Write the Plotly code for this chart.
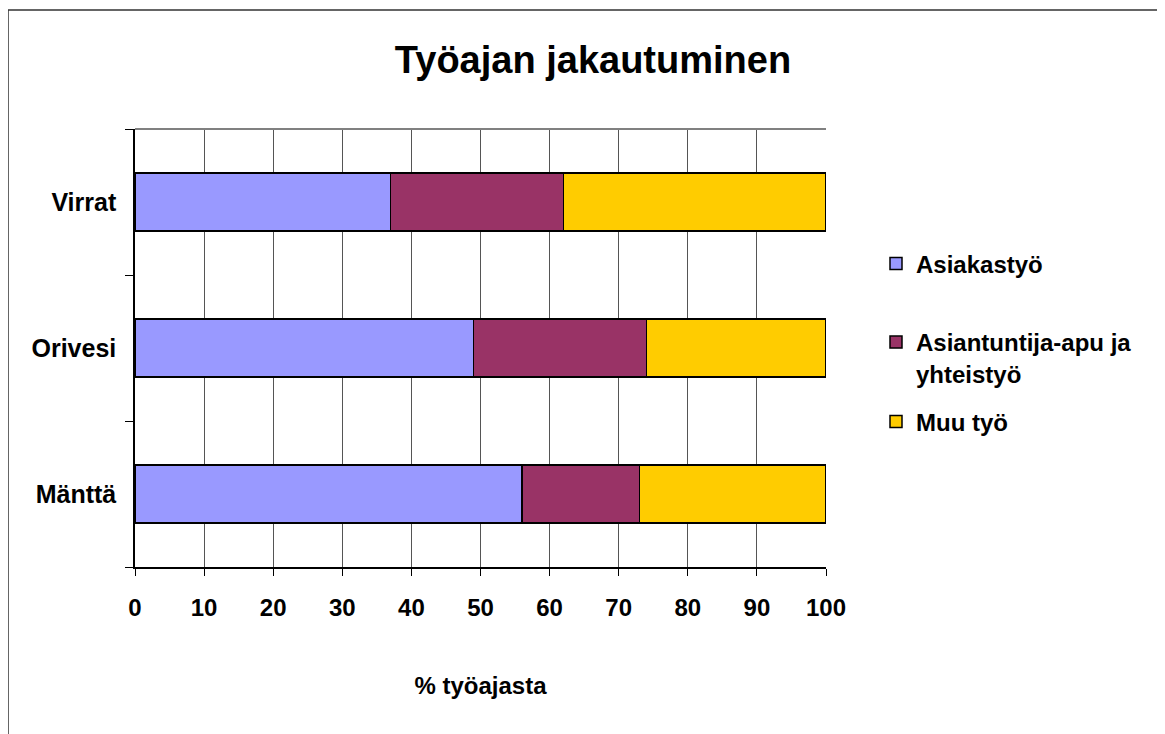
import plotly.graph_objects as go

categories = ["Mänttä", "Orivesi", "Virrat"]
asiakastyo = [56, 49, 37]
asiantuntija = [17, 25, 25]
muu = [27, 26, 38]
series_names = ["Asiakastyö", "Asiantuntija-apu ja<br>yhteistyö", "Muu työ"]
x_ticks = [0, 10, 20, 30, 40, 50, 60, 70, 80, 90, 100]

colors = ["#9999FF", "#993366", "#FFCC00"]
FONT = "Liberation Sans, Arial, sans-serif"

# page offset (body margin) compensation
OX, OY = 8, 8
W, H = 1165, 734

fig = go.Figure()
legends = ["legend", "legend2", "legend3"]
for name, vals, col, lg in zip(series_names, [asiakastyo, asiantuntija, muu], colors, legends):
    fig.add_trace(go.Bar(
        y=categories, x=vals, name=f"<b>{name.replace('<br>', '</b><br><b>')}</b>", orientation="h",
        marker=dict(color=col, line=dict(color="#000000", width=1.5)),
        legend=lg,
    ))

# target pixel positions in the window
pl, pr, pt, pb = 135, 826, 129, 567
L = pl - OX
T = pt - OY
R = W - (pr - OX)
B = H - (pb - OY)
pw, ph = pr - pl, pb - pt

def px(x):
    return (x - pl) / pw

def py(y):
    return (pb - y) / ph

leg_common = dict(font=dict(size=24, family=FONT), bgcolor="rgba(0,0,0,0)", valign="top",
                  xanchor="left")

fig.update_layout(
    width=W, height=H,
    barmode="stack", bargap=0.6,
    paper_bgcolor="white", plot_bgcolor="white",
    margin=dict(l=L, r=R, t=T, b=B),
    font=dict(family=FONT, size=24, color="#000000"),
    title=dict(text="<b>Työajan jakautuminen</b>", font=dict(size=38, family=FONT, color="#000"),
               x=(593 - OX) / W, xanchor="center", xref="container",
               y=1 - (60 - OY) / H, yanchor="middle", yref="container"),
    showlegend=True,
    legend=dict(x=px(876), y=py(264), yanchor="middle", **leg_common),
    legend2=dict(x=px(876), y=py(320), yanchor="top", **leg_common),
    legend3=dict(x=px(876), y=py(422), yanchor="middle", **leg_common),
    xaxis=dict(range=[0, 100], tickvals=x_ticks, ticktext=[f"<b>{v}</b>" for v in x_ticks],
               showgrid=True, gridcolor="#555555", gridwidth=1,
               showline=True, linecolor="#000000", linewidth=1.5,
               ticks="outside", ticklen=7, tickcolor="#000000",
               ticklabelstandoff=11, zeroline=False, tickfont=dict(size=24),
               title=dict(text="<b>% työajasta</b>", standoff=58, font=dict(size=24))),
    yaxis=dict(type="category", categoryorder="array", categoryarray=categories,
               tickson="boundaries", ticks="outside", ticklen=8, tickcolor="#000000",
               ticktext=[f"<b>{c}</b>" for c in categories], tickvals=categories,
               showgrid=False, showline=True, linecolor="#000000", linewidth=1.5,
               ticklabelstandoff=12, range=[-0.5, 2.5], tickfont=dict(size=25)),
    shapes=[
        dict(type="line", xref="paper", yref="paper", x0=0, x1=1, y0=1, y1=1,
             line=dict(color="#808080", width=2)),
        dict(type="rect", xref="paper", yref="paper",
             x0=px(8), x1=px(1220), y0=py(10), y1=py(800),
             line=dict(color="#333333", width=1.5)),
    ],
)

fig.write_html("out.html")
